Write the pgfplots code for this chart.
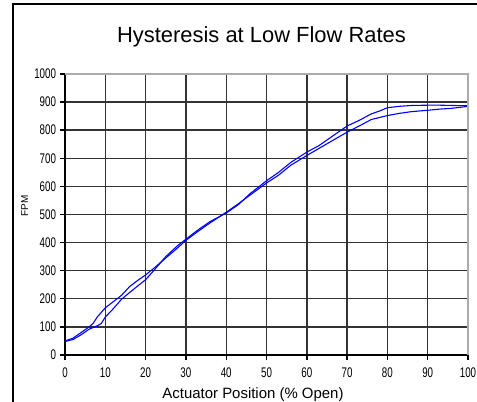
\documentclass[border=0pt]{standalone}
\usepackage{fontspec}
\setmainfont{Liberation Sans}
\newfontfamily\narrowfont[FakeStretch=0.7]{Liberation Sans}
\usepackage{pgfplots}
\pgfplotsset{compat=1.18}

\pgfplotstableread{
x    y
0    50
2    60
4    80
6    100
7    113
8    135
10   168
12   190
14   212
16   243
18   265
20   285
22   308
25   345
28   382
30   408
33   440
36   470
40   508
43   538
46   570
50   612
53   640
56   675
60   710
63   735
66   760
70   793
73   815
76   838
78   845
80   852
83   860
86   866
90   871
93   875
96   878
100  885
}\opening

\pgfplotstableread{
x    y
0    48
2    55
4    72
6    92
8    104
9    112
10   135
12   165
14   198
16   222
18   245
20   268
22   300
25   350
28   390
30   412
33   445
36   475
40   505
43   535
46   575
50   620
53   650
56   685
60   722
63   745
66   775
70   815
73   835
76   858
78   868
80   880
83   885
86   888
90   889
93   889
96   888
100  887
}\closing

\definecolor{curve}{rgb}{0,0,1}

\begin{document}
\begin{tikzpicture}
\useasboundingbox (0bp,0bp) rectangle (477bp,402bp);
% chart area frame, cut off at right and bottom
\draw[line width=1.3bp] (13bp,-20bp) -- (13bp,398bp) -- (500bp,398bp);
\node[anchor=base, inner sep=0pt, font=\fontsize{22}{24}\selectfont] at (261.5bp,359bp) {Hysteresis at Low Flow Rates};

\begin{axis}[
  at={(65bp,47bp)}, anchor=south west,
  scale only axis,
  width=403bp, height=281bp,
  xmin=0, xmax=100, ymin=0, ymax=1000,
  xtick={0,10,...,100},
  ytick={0,100,...,1000},
  axis lines*=left,
  axis line style={line width=1.4bp, black},
  tick align=outside,
  major tick length=5bp,
  tick style={line width=1.4bp, black},
  grid=major,
  major grid style={line width=1.4bp, black!80},
  clip=false,
  /pgf/number format/assume math mode=true,
  /pgf/number format/1000 sep={},
  ticklabel style={font=\narrowfont\fontsize{14}{15}\selectfont},
  xticklabel style={yshift=-4bp},
  yticklabel style={xshift=-0.5bp},
]
\addplot[curve, line width=1.1bp] table[x=x, y=y] {\opening};
\addplot[curve, line width=1.1bp] table[x=x, y=y] {\closing};
\draw[gray!65, line width=1.4bp] (rel axis cs:0,1) -- (rel axis cs:1,1) -- (rel axis cs:1,0);
\end{axis}

\node[anchor=base, inner sep=0pt, font=\fontsize{15}{17}\selectfont] at (253bp,4bp) {Actuator Position (\% Open)};
\node[anchor=base, rotate=90, inner sep=0pt, font=\fontsize{10}{12}\selectfont] at (28bp,196bp) {FPM};
\end{tikzpicture}
\end{document}
